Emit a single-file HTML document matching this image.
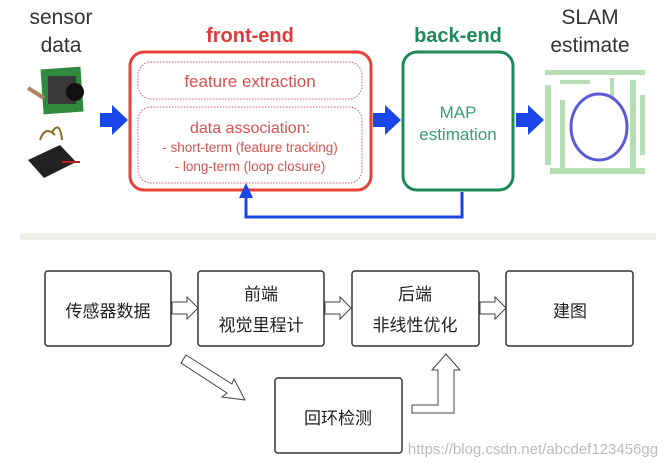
<!DOCTYPE html>
<html><head><meta charset="utf-8"><style>
html,body{margin:0;padding:0;background:#fff;}
svg{display:block;}
text{font-family:"Liberation Sans","Noto Sans CJK SC",sans-serif;}
</style></head><body>
<svg width="669" height="468" viewBox="0 0 669 468" xmlns="http://www.w3.org/2000/svg">
<rect width="669" height="468" fill="#fff"/>
<g font-size="21" fill="#333" text-anchor="middle">
<text x="61" y="24">sensor</text><text x="61" y="52">data</text>
<text x="590" y="24">SLAM</text><text x="590" y="52">estimate</text>
</g>
<text x="250" y="42" font-size="20" font-weight="bold" fill="#e03a3a" text-anchor="middle">front-end</text>
<text x="458" y="42" font-size="20" font-weight="bold" fill="#1e8a5a" text-anchor="middle">back-end</text>
<rect x="42" y="68" width="40" height="45" fill="#2e8b3e" transform="rotate(-4 62 90)"/>
<rect x="48" y="76" width="28" height="28" fill="#3a3a3a"/>
<circle cx="75" cy="92" r="9" fill="#111"/>
<path d="M28 88 L44 98" stroke="#b08060" stroke-width="4"/>
<path d="M28 160 L60 145 L76 162 L44 178 Z" fill="#222"/>
<path d="M40 140 Q45 125 55 135 M52 132 Q60 120 62 140" stroke="#8a6a20" stroke-width="2" fill="none"/>
<path d="M62 162 L80 162" stroke="#c02020" stroke-width="2"/>
<rect x="130" y="52" width="241" height="138" rx="14" fill="none" stroke="#e8403a" stroke-width="3"/>
<rect x="138" y="62" width="224" height="37" rx="13" fill="none" stroke="#d06060" stroke-width="1" stroke-dasharray="1.5 1.5"/>
<rect x="138" y="107" width="224" height="76" rx="13" fill="none" stroke="#d06060" stroke-width="1" stroke-dasharray="1.5 1.5"/>
<g fill="#d85050" text-anchor="middle">
<text x="250" y="87" font-size="17">feature extraction</text>
<text x="250" y="133" font-size="16">data association:</text>
<text x="250" y="152" font-size="13.5">- short-term (feature tracking)</text>
<text x="250" y="171" font-size="13.5">- long-term (loop closure)</text>
</g>
<rect x="403" y="52" width="110" height="138" rx="14" fill="none" stroke="#1e8a5a" stroke-width="3"/>
<g fill="#3a9a7a" font-size="17" text-anchor="middle">
<text x="458" y="118">MAP</text><text x="458" y="140">estimation</text>
</g>
<g fill="#1a46e8">
<path d="M100 113 L112 113 L112 105 L128 120 L112 135 L112 127 L100 127 Z"/>
<path d="M373 113 L385 113 L385 105 L401 120 L385 135 L385 127 L373 127 Z"/>
<path d="M516 113 L528 113 L528 105 L544 120 L528 135 L528 127 L516 127 Z"/>
<path d="M239 198 L246 183 L253 198 Z"/>
</g>
<path d="M462 192 L462 217 L246 217 L246 196" fill="none" stroke="#1a46e8" stroke-width="3"/>
<g fill="#5cb85c" opacity="0.45">
<rect x="545" y="70" width="100" height="5"/>
<rect x="560" y="80" width="30" height="4"/>
<rect x="545" y="85" width="6" height="80"/>
<rect x="560" y="100" width="5" height="70"/>
<rect x="630" y="80" width="6" height="90"/>
<rect x="640" y="95" width="5" height="60"/>
<rect x="550" y="168" width="95" height="6"/>
<rect x="610" y="78" width="4" height="20"/>
</g>
<ellipse cx="599" cy="127" rx="28" ry="33" fill="none" stroke="#5a5ad8" stroke-width="3"/>
<rect x="20" y="233" width="636" height="7" fill="#eeeeea"/>
<g fill="none" stroke="#333" stroke-width="1.5">
<rect x="45" y="271" width="126" height="75" rx="3"/>
<rect x="198" y="271" width="126" height="75" rx="3"/>
<rect x="352" y="271" width="127" height="75" rx="3"/>
<rect x="506" y="271" width="127" height="75" rx="3"/>
<rect x="275" y="378" width="127" height="75" rx="3"/>
</g>
<g fill="#fff" stroke="#444" stroke-width="1">
<path d="M172 302 L187 302 L187 297 L198 308 L187 319 L187 314 L172 314 Z"/>
<path d="M325 302 L340 302 L340 297 L351 308 L340 319 L340 314 L325 314 Z"/>
<path d="M480 302 L495 302 L495 297 L506 308 L495 319 L495 314 L480 314 Z"/>
<path d="M186 355 L232 384 L234 379 L245 400 L222 397 L227 393 L181 363 Z"/>
<path d="M412 405 L438 405 L438 370 L432 370 L446 354 L460 370 L454 370 L454 413 L412 413 Z"/>
</g>
<g fill="#222" font-size="17" text-anchor="middle">
<text x="108" y="317">传感器数据</text>
<text x="261" y="300">前端</text><text x="261" y="331">视觉里程计</text>
<text x="415" y="300">后端</text><text x="415" y="331">非线性优化</text>
<text x="570" y="317">建图</text>
<text x="338" y="424">回环检测</text>
</g>
<text x="533" y="454" font-size="15" fill="#bbbbbb" text-anchor="middle">https://blog.csdn.net/abcdef123456gg</text>
</svg>
</body></html>
